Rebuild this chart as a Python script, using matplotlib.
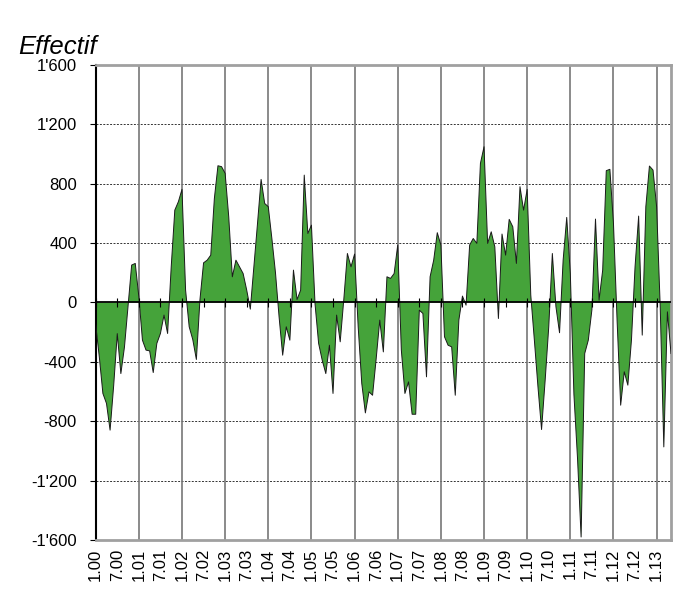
import numpy as np
import matplotlib
matplotlib.use("Agg")
import matplotlib.pyplot as plt
from matplotlib.ticker import FuncFormatter

plt.rcParams['font.family'] = ['Liberation Sans', 'DejaVu Sans']

# valeurs mensuelles, 1.00 .. 5.13
effectif = [
    -150, -366, -613, -680, -860, -560, -210, -479, -300, -20,
    252, 263, 38, -254, -321, -326, -472, -276, -209, -85,
    -209, 240, 622, 679, 762, 83, -164, -250, -384, 20,
    267, 285, 319, 700, 921, 915, 870, 577, 173, 285,
    240, 195, 83, -45, 240, 532, 829, 667, 645, 430,
    200, -97, -355, -164, -254, 218, 20, 83, 858, 465,
    521, -10, -276, -389, -479, -288, -613, -85, -265, 20,
    330, 240, 326, -164, -546, -744, -602, -625, -380, -119,
    -333, 173, 162, 195, 387, -320, -613, -535, -753, -753,
    -52, -74, -501, 173, 285, 470, 387, -231, -288, -299,
    -625, -119, 43, -18, 387, 431, 398, 937, 1049, 398,
    476, 375, -108, 461, 319, 560, 510, 263, 780, 622,
    762, 50, -254, -568, -856, -524, -164, 330, -29, -204,
    285, 573, 195, -620, -1050, -1580, -344, -254, -50, 562,
    16, 218, 888, 897, 532, -119, -692, -467, -557, -254,
    240, 582, -220, 645, 919, 892, 645, -29, -973, -63,
    -344,
]
mois = np.arange(len(effectif))

tick_pos = np.arange(0, 157, 6)
tick_lab = [("1." if i % 2 == 0 else "7.") + "%02d" % (i // 2) for i in range(len(tick_pos))]

fig = plt.figure(figsize=(6.97, 5.96), dpi=100)
ax = fig.add_axes([0.1373, 0.094, 0.8254, 0.797])

ax.fill_between(mois, effectif, 0, facecolor='#45a33a', edgecolor='none', zorder=2)
ax.plot(mois, effectif, color='#1a1a1a', lw=0.7, zorder=3)
ax.axhline(0, color='black', lw=1.3, zorder=4)
ax.vlines(tick_pos, -28, 28, color='black', lw=0.8, zorder=4)

ax.set_xlim(0, 160)
ax.set_ylim(-1600, 1600)
ax.set_yticks(np.arange(-1600, 1601, 400))
ax.yaxis.set_major_formatter(FuncFormatter(lambda v, p: format(int(v), ',').replace(',', "'")))
ax.set_xticks(tick_pos)
ax.set_xticklabels(tick_lab, rotation=90)
ax.tick_params(axis='x', length=0, labelsize=12, pad=6)
ax.tick_params(axis='y', length=4.5, labelsize=12, direction='out', pad=9)

for y in np.arange(-1200, 1201, 400):
    if y != 0:
        ax.axhline(y, color='#333333', lw=0.7, ls=(0, (2, 1.5)), zorder=1)
for x in np.arange(12, 157, 12):
    ax.axvline(x, color='#777777', lw=1.2, zorder=1)

for s in ['top', 'right', 'bottom']:
    ax.spines[s].set_color('#a0a0a0')
    ax.spines[s].set_linewidth(2)
ax.spines['left'].set_color('black')
ax.spines['left'].set_linewidth(1.5)

fig.text(0.026, 0.9094, "Effectif", fontsize=18.5, style='italic', ha='left', va='baseline')

fig.savefig("out.png", dpi=100)
